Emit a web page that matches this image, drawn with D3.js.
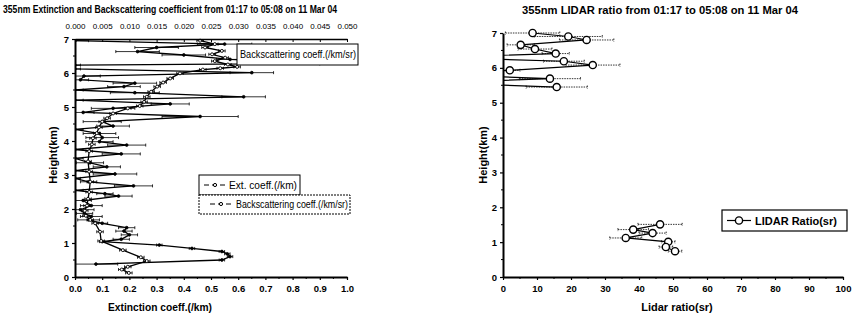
<!DOCTYPE html>
<html>
<head>
<meta charset="utf-8">
<script src="https://cdn.jsdelivr.net/npm/d3@7"></script>
<style>
  body { margin: 0; background: #fff; }
  svg { font-family: "Liberation Sans", Arial, sans-serif; }
  .tick text { font-weight: bold; }
</style>
</head>
<body>
<svg id="chart" width="853" height="320"></svg>
<script>
// Extinction coefficient (/km) profile, bottom axis
const extHeight = [0.38, 0.50, 0.60, 0.68, 0.75, 0.84, 0.94, 1.04, 1.11, 1.24, 1.35, 1.45, 1.58, 1.68, 1.78, 1.87, 1.98, 2.10, 2.25, 2.38, 2.45, 2.55, 2.68, 2.80, 2.90, 3.03, 3.13, 3.24, 3.36, 3.49, 3.62, 3.75, 3.88, 3.98, 4.10, 4.22, 4.34, 4.44, 4.57, 4.72, 4.84, 4.96, 5.09, 5.20, 5.30, 5.42, 5.50, 5.60, 5.70, 5.80, 5.91, 6.01, 6.12, 6.23, 6.28, 6.40, 6.53, 6.63, 6.75, 6.85, 6.95];
const extValue  = [0.077, 0.54, 0.57, 0.56, 0.54, 0.43, 0.31, 0.10, 0.17, 0.20, 0.18, 0.19, 0.10, 0.05, 0.06, 0.035, 0.02, 0.06, 0.03, 0.16, 0.11, 0.0, 0.215, 0.05, 0.0, 0.147, 0.0, 0.117, 0.055, 0.0, 0.17, 0.0, 0.19, 0.09, 0.10, 0.09, 0.0, 0.14, 0.10, 0.46, 0.03, 0.14, 0.35, 0.0, 0.62, 0.22, 0.0, 0.18, 0.22, 0.02, 0.033, 0.65, 0.0, 0.0, 0.90, 0.57, 0.40, 0.23, 0.30, 0.55, 0.0];
const extError  = [0.08, 0.01, 0.01, 0.01, 0.01, 0.01, 0.01, 0.01, 0.03, 0.03, 0.03, 0.03, 0.02, 0.04, 0.04, 0.03, 0.05, 0.04, 0.03, 0.05, 0.03, 0.03, 0.07, 0.03, 0.02, 0.08, 0.03, 0.05, 0.05, 0.03, 0.07, 0.03, 0.07, 0.05, 0.06, 0.06, 0.03, 0.06, 0.07, 0.14, 0.04, 0.08, 0.07, 0.03, 0.08, 0.09, 0.03, 0.06, 0.08, 0.03, 0.06, 0.08, 0.02, 0.02, 0.10, 0.05, 0.08, 0.08, 0.08, 0.10, 0.05];

// Backscattering coefficient (/km/sr) profile, top axis
const bsHeight = [0.12, 0.22, 0.30, 0.47, 0.58, 0.79, 1.06, 1.33, 1.58, 1.68, 1.80, 1.95, 2.10, 2.30, 2.50, 2.80, 3.10, 3.40, 3.70, 3.90, 4.08, 4.23, 4.40, 4.57, 4.67, 4.81, 4.96, 5.03, 5.15, 5.30, 5.45, 5.60, 5.72, 5.84, 5.99, 6.10, 6.14, 6.18, 6.25, 6.35, 6.45, 6.55, 6.65, 6.75, 6.85, 6.95];
const bsValue  = [0.0099, 0.0086, 0.0097, 0.0132, 0.0121, 0.0088, 0.0048, 0.0046, 0.0037, 0.0028, 0.0020, 0.0018, 0.0022, 0.0024, 0.0026, 0.0028, 0.0026, 0.0024, 0.0026, 0.0031, 0.0033, 0.0040, 0.0044, 0.0050, 0.0059, 0.0070, 0.0097, 0.0119, 0.0127, 0.0132, 0.0140, 0.0151, 0.0162, 0.0175, 0.0193, 0.0235, 0.0267, 0.0298, 0.0281, 0.0257, 0.0276, 0.0252, 0.0270, 0.0239, 0.0257, 0.0230];
const bsError  = 0.0006;

// LIDAR ratio (sr); null marks the gap between the two layers
const lrHeight = [7.00, 6.90, 6.80, 6.66, 6.54, 6.41, 6.30, 6.19, 6.08, 5.93, 5.81, 5.69, 5.57, 5.45, null, 1.51, 1.36, 1.26, 1.12, 1.01, 0.86, 0.74];
const lrValue  = [8.7, 19.2, 24.6, 5.2, 9.4, 15.5, -20, 17.9, 26.4, 2.0, -20, 13.8, -20, 15.8, null, 46.2, 38.3, 44.0, 36.1, 48.6, 47.9, 50.6];
const lrError  = [8, 10, 8, 4, 5, 4, 0, 6, 8, 3, 0, 9, 0, 9, null, 6.5, 4.5, 4, 4.7, 2, 2, 2];

const extTicks = d3.range(0, 1.01, 0.1);
const bsTicks = d3.range(0, 0.0501, 0.005);
const heightTicks = d3.range(0, 8);
const ratioTicks = d3.range(0, 101, 10);

const svg = d3.select('#chart');

// ---------- left panel ----------
const xExt = d3.scaleLinear().domain([0, 1]).range([75, 347]);
const xBs = d3.scaleLinear().domain([0, 0.05]).range([75, 347]);
const yL = d3.scaleLinear().domain([0, 7]).range([277, 39]);

svg.append('clipPath').attr('id', 'clipL')
  .append('rect').attr('x', 75).attr('y', 37).attr('width', 272).attr('height', 242);

svg.append('text')
  .attr('x', 3).attr('y', 13)
  .attr('textLength', 334).attr('lengthAdjust', 'spacingAndGlyphs')
  .style('font-size', '11.5px').style('font-weight', 'bold')
  .text('355nm Extinction and Backscattering coefficient from 01:17 to 05:08 on 11 Mar 04');

const gL = svg.append('g').attr('clip-path', 'url(#clipL)');

const extData = extHeight.map((h, i) => ({ h, v: extValue[i], e: extError[i] }));
const bsData = bsHeight.map((h, i) => ({ h, v: bsValue[i], e: bsError }));

// error bars
function errorBars(g, data, x, y, dash) {
  const eb = g.append('g').attr('stroke', '#000').attr('stroke-width', 0.8)
    .attr('stroke-dasharray', dash || null);
  data.forEach(d => {
    if (d.h == null || !d.e) return;
    eb.append('line').attr('x1', x(d.v - d.e)).attr('x2', x(d.v + d.e))
      .attr('y1', y(d.h)).attr('y2', y(d.h));
    [d.v - d.e, d.v + d.e].forEach(v => {
      eb.append('line').attr('x1', x(v)).attr('x2', x(v))
        .attr('y1', y(d.h) - 1.5).attr('y2', y(d.h) + 1.5).attr('stroke-dasharray', null);
    });
  });
}

errorBars(gL, extData, xExt, yL);
errorBars(gL, bsData, xBs, yL);

gL.append('path').datum(extData)
  .attr('fill', 'none').attr('stroke', '#000').attr('stroke-width', 1.3)
  .attr('d', d3.line().x(d => xExt(d.v)).y(d => yL(d.h)));
gL.append('path').datum(bsData)
  .attr('fill', 'none').attr('stroke', '#000').attr('stroke-width', 1.3)
  .attr('d', d3.line().x(d => xBs(d.v)).y(d => yL(d.h)));

gL.selectAll('.extpt').data(extData).enter().append('circle')
  .attr('cx', d => xExt(d.v)).attr('cy', d => yL(d.h)).attr('r', 1.4)
  .attr('fill', '#000').attr('stroke', '#000').attr('stroke-width', 0.8);
gL.selectAll('.bspt').data(bsData).enter().append('circle')
  .attr('cx', d => xBs(d.v)).attr('cy', d => yL(d.h)).attr('r', 1.5)
  .attr('fill', '#fff').attr('stroke', '#000').attr('stroke-width', 0.9);

// axes
const axBottomL = svg.append('g').attr('transform', 'translate(0,277)')
  .call(d3.axisBottom(xExt).tickValues(extTicks).tickSizeInner(3).tickSizeOuter(0)
    .tickFormat(d3.format('.1f')));
const axTopL = svg.append('g').attr('transform', 'translate(0,39)')
  .call(d3.axisTop(xBs).tickValues(bsTicks).tickSizeInner(-3).tickSizeOuter(0)
    .tickFormat(d3.format('.3f')));
const axLeftL = svg.append('g').attr('transform', 'translate(75,0)')
  .call(d3.axisLeft(yL).tickValues(heightTicks).tickSizeInner(3).tickSizeOuter(0)
    .tickFormat(d3.format('d')));

// minor ticks
svg.append('g').selectAll('line').data(d3.range(0.05, 1, 0.1)).enter().append('line')
  .attr('x1', d => xExt(d)).attr('x2', d => xExt(d)).attr('y1', 277).attr('y2', 279)
  .attr('stroke', '#000');
svg.append('g').selectAll('line').data(d3.range(0.5, 7, 1)).enter().append('line')
  .attr('x1', 73).attr('x2', 75).attr('y1', d => yL(d)).attr('y2', d => yL(d))
  .attr('stroke', '#000');

[axBottomL, axLeftL].forEach(a => {
  a.select('.domain').attr('stroke-width', 2);
  a.selectAll('.tick line').attr('stroke-width', 1.2);
  a.selectAll('.tick text').style('font-size', '9.5px');
});
axBottomL.selectAll('.tick text').attr('dy', '0.9em');
axTopL.select('.domain').attr('stroke-width', 1.5);
axTopL.selectAll('.tick text').style('font-size', '8px').style('font-weight', 'normal')
  .attr('y', -10).attr('dy', 0);

svg.append('text')
  .attr('transform', 'translate(57,155) rotate(-90)')
  .attr('text-anchor', 'middle')
  .style('font-size', '11px').style('font-weight', 'bold')
  .text('Height(km)');
svg.append('text')
  .attr('x', 160).attr('y', 311).attr('text-anchor', 'middle')
  .style('font-size', '10.5px').style('font-weight', 'bold')
  .attr('textLength', 104).attr('lengthAdjust', 'spacingAndGlyphs')
  .text('Extinction coeff.(/km)');

// legends (left)
const leg1 = svg.append('g');
leg1.append('rect').attr('x', 237).attr('y', 44).attr('width', 121).attr('height', 21)
  .attr('fill', '#fff').attr('stroke', '#000').attr('stroke-width', 1);
leg1.append('text').attr('x', 240).attr('y', 58)
  .style('font-size', '11px')
  .attr('textLength', 116).attr('lengthAdjust', 'spacingAndGlyphs')
  .text('Backscattering coeff.(/km/sr)');

const leg2 = svg.append('g');
leg2.append('rect').attr('x', 199).attr('y', 175).attr('width', 101).attr('height', 20)
  .attr('fill', '#fff').attr('stroke', '#000').attr('stroke-width', 1);
leg2.append('rect').attr('x', 199).attr('y', 195).attr('width', 151).attr('height', 19)
  .attr('fill', '#fff').attr('stroke', '#000').attr('stroke-width', 1)
  .attr('stroke-dasharray', '2,1');
function legendSym(g, x, y) {
  g.append('line').attr('x1', x).attr('x2', x + 22).attr('y1', y).attr('y2', y)
    .attr('stroke', '#000').attr('stroke-width', 1).attr('stroke-dasharray', '5,3');
  g.append('circle').attr('cx', x + 11).attr('cy', y).attr('r', 1.6)
    .attr('fill', '#fff').attr('stroke', '#000');
}
legendSym(leg2, 204, 185);
legendSym(leg2, 210, 204);
leg2.append('text').attr('x', 229).attr('y', 189)
  .style('font-size', '10px')
  .attr('textLength', 68).attr('lengthAdjust', 'spacingAndGlyphs')
  .text('Ext. coeff.(/km)');
leg2.append('text').attr('x', 236).attr('y', 208)
  .style('font-size', '10px')
  .attr('textLength', 112).attr('lengthAdjust', 'spacingAndGlyphs')
  .text('Backscattering coeff.(/km/sr)');

// ---------- right panel ----------
const xR = d3.scaleLinear().domain([0, 100]).range([503, 843]);
const yR = d3.scaleLinear().domain([0, 7]).range([277, 33]);

svg.append('clipPath').attr('id', 'clipR')
  .append('rect').attr('x', 503).attr('y', 25).attr('width', 345).attr('height', 254);

svg.append('text')
  .attr('x', 660).attr('y', 14).attr('text-anchor', 'middle')
  .attr('textLength', 276).attr('lengthAdjust', 'spacingAndGlyphs')
  .style('font-size', '11px').style('font-weight', 'bold')
  .text('355nm LIDAR ratio from 01:17 to 05:08 on 11 Mar 04');

const gR = svg.append('g').attr('clip-path', 'url(#clipR)');
const lrData = lrHeight.map((h, i) => ({ h, v: lrValue[i], e: lrError[i] }));

errorBars(gR, lrData, xR, yR, '1.5,1');
gR.append('path').datum(lrData)
  .attr('fill', 'none').attr('stroke', '#000').attr('stroke-width', 1.2)
  .attr('d', d3.line().defined(d => d.h != null).x(d => xR(d.v)).y(d => yR(d.h)));
gR.selectAll('.lrpt').data(lrData.filter(d => d.h != null)).enter().append('circle')
  .attr('cx', d => xR(d.v)).attr('cy', d => yR(d.h)).attr('r', 3.6)
  .attr('fill', '#fff').attr('stroke', '#000').attr('stroke-width', 1.4);

const axBottomR = svg.append('g').attr('transform', 'translate(0,277)')
  .call(d3.axisBottom(xR).tickValues(ratioTicks).tickSizeInner(3).tickSizeOuter(0));
const axLeftR = svg.append('g').attr('transform', 'translate(503,0)')
  .call(d3.axisLeft(yR).tickValues(heightTicks).tickSizeInner(3).tickSizeOuter(0)
    .tickFormat(d3.format('d')));
[axBottomR, axLeftR].forEach(a => {
  a.select('.domain').attr('stroke-width', 2);
  a.selectAll('.tick line').attr('stroke-width', 1.2);
  a.selectAll('.tick text').style('font-size', '9.5px');
});
axBottomR.selectAll('.tick text').attr('dy', '0.9em');
svg.append('g').selectAll('line').data(d3.range(5, 100, 10)).enter().append('line')
  .attr('x1', d => xR(d)).attr('x2', d => xR(d)).attr('y1', 277).attr('y2', 279)
  .attr('stroke', '#000');
svg.append('g').selectAll('line').data(d3.range(0.5, 7, 1)).enter().append('line')
  .attr('x1', 501).attr('x2', 503).attr('y1', d => yR(d)).attr('y2', d => yR(d))
  .attr('stroke', '#000');

svg.append('text')
  .attr('transform', 'translate(487,155) rotate(-90)')
  .attr('text-anchor', 'middle')
  .style('font-size', '11px').style('font-weight', 'bold')
  .text('Height(km)');
svg.append('text')
  .attr('x', 677).attr('y', 311).attr('text-anchor', 'middle')
  .style('font-size', '11px').style('font-weight', 'bold')
  .text('Lidar ratio(sr)');

const leg3 = svg.append('g');
leg3.append('rect').attr('x', 722).attr('y', 210).attr('width', 125).attr('height', 21)
  .attr('fill', '#fff').attr('stroke', '#000').attr('stroke-width', 1.2);
leg3.append('line').attr('x1', 727).attr('x2', 751).attr('y1', 220.5).attr('y2', 220.5)
  .attr('stroke', '#000').attr('stroke-width', 1.2);
leg3.append('circle').attr('cx', 739).attr('cy', 220.5).attr('r', 3.6)
  .attr('fill', '#fff').attr('stroke', '#000').attr('stroke-width', 1.4);
leg3.append('text').attr('x', 755).attr('y', 225)
  .style('font-size', '11px').style('font-weight', 'bold')
  .text('LIDAR Ratio(sr)');
</script>
</body>
</html>
